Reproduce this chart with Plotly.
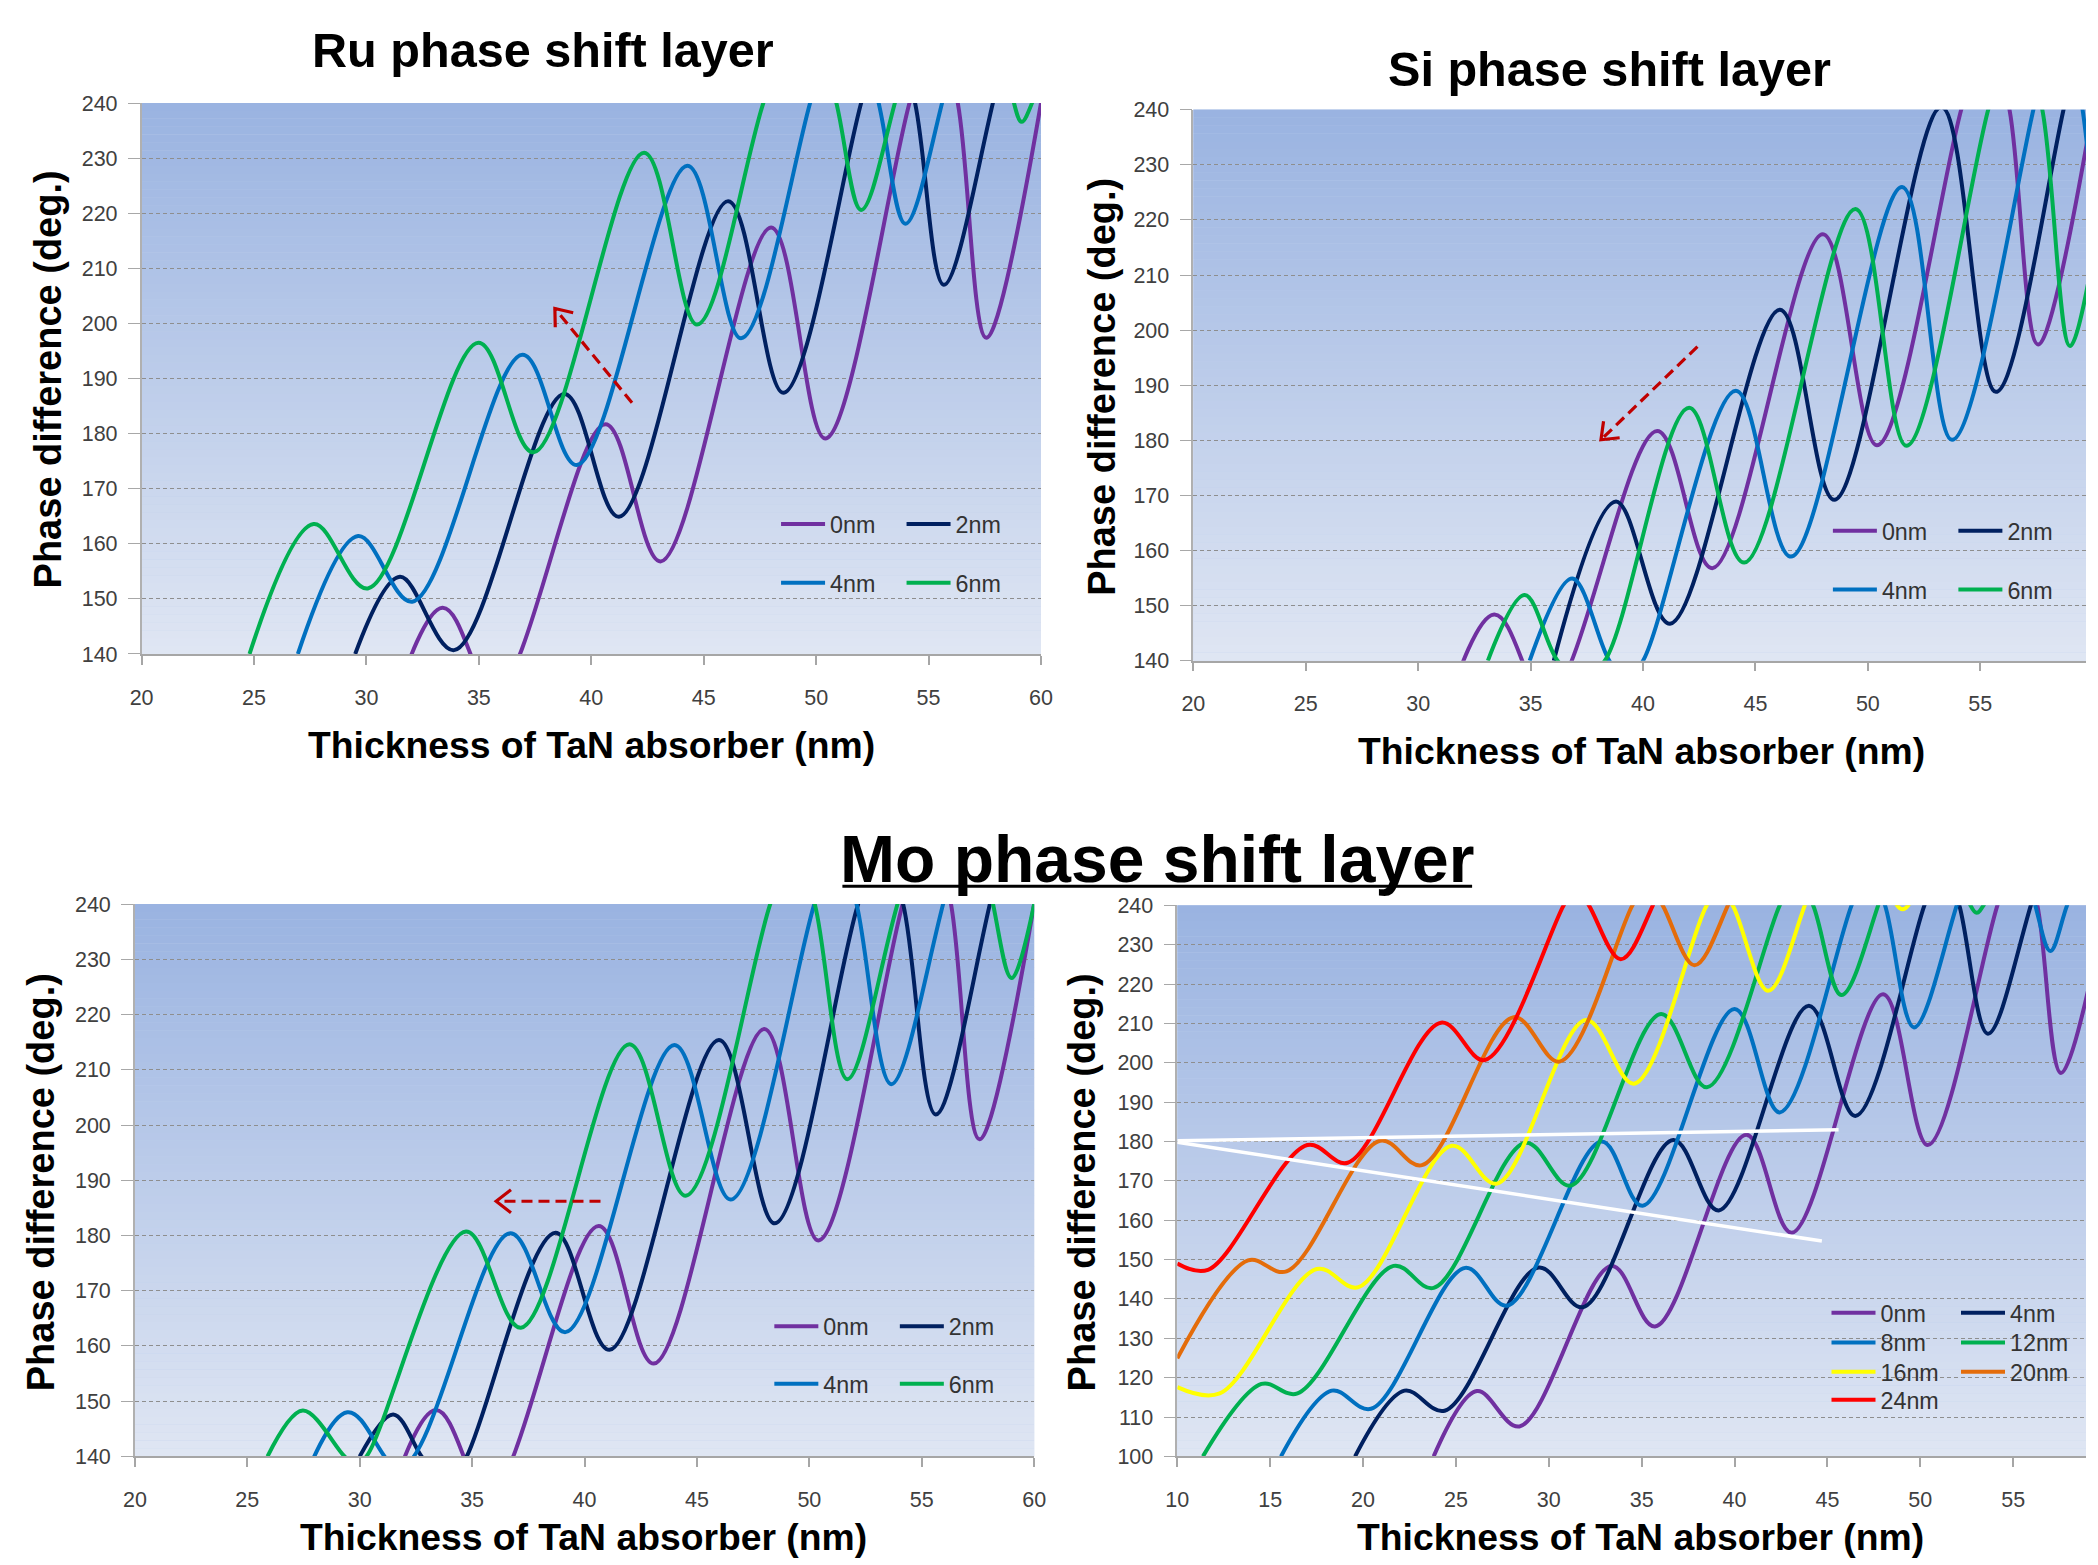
import math
import plotly.graph_objects as go

W, H = 2098, 1565
FONT = "Liberation Sans, Arial, sans-serif"

# ---------------------------------------------------------------------------
# Phase difference (deg.) versus TaN absorber thickness (nm)
# ---------------------------------------------------------------------------

# 0 nm phase shift layer (identical reference curve in every panel)
x_0nm = [23.8, 26.13, 28.42, 33.38, 35.72, 40.63, 43.08, 48.0, 50.4, 54.15, 55.3, 56.3, 57.57, 60.0]
y_0nm = [100, 116.6, 107.6, 148.4, 133.0, 181.7, 156.8, 217.4, 179.1, 240, 256, 240, 197.4, 240]

# Ru phase shift layer
ru_x_2nm = [29.5, 31.49, 33.9, 38.8, 41.23, 46.09, 48.54, 52.0, 53.2, 54.4, 55.68, 57.86, 60.4]
ru_y_2nm = [140, 154.0, 140.7, 187.2, 164.9, 222.2, 187.4, 240, 258, 240, 207.0, 240, 290]
ru_x_4nm = [26.95, 29.63, 32.04, 36.94, 39.36, 44.28, 46.66, 49.73, 51.25, 52.78, 53.97, 55.6, 58.6]
ru_y_4nm = [140, 161.4, 149.5, 194.3, 174.3, 228.6, 197.3, 240, 264, 240, 218.1, 240, 300]
ru_x_6nm = [24.8, 27.65, 30.06, 34.98, 37.43, 42.35, 44.7, 47.65, 49.5, 50.9, 52.0, 53.5, 57.0,
            58.8, 59.14, 59.6, 60.0]
ru_y_6nm = [140, 163.6, 151.9, 196.5, 176.6, 231.0, 199.8, 240, 262, 240, 220.6, 240, 305,
            240, 236.6, 240, 246]

# Si phase shift layer
si_x_2nm = [36.03, 38.8, 41.2, 46.09, 48.51, 53.27, 55.69, 58.7, 60.4]
si_y_2nm = [140, 168.9, 146.7, 203.7, 169.2, 240.5, 188.8, 240, 275]
si_x_4nm = [34.96, 36.85, 38.5, 39.25, 40.0, 44.13, 46.58, 51.52, 53.74, 57.36, 58.5, 59.55, 60.0]
si_y_4nm = [140, 154.9, 140, 136.5, 140, 189.0, 158.9, 226.0, 180.1, 240, 262, 240, 222]
si_x_6nm = [33.1, 34.74, 36.2, 37.25, 38.3, 42.05, 44.5, 49.45, 51.71, 55.35, 56.6, 57.76, 58.99, 60.0]
si_y_6nm = [140, 151.9, 140, 136.5, 140, 185.9, 157.8, 222.0, 179.0, 240, 258, 240, 197.1, 213]

# Mo phase shift layer
mo_x_2nm = [30.0, 31.49, 32.75, 33.8, 34.76, 38.71, 41.11, 45.98, 48.46, 52.17, 53.2, 54.17,
            55.62, 58.03, 60.4]
mo_y_2nm = [140, 147.6, 140, 134.0, 140, 180.5, 159.3, 215.4, 182.2, 240, 251, 240,
            201.9, 240, 285]
mo_x_4nm = [19.57, 22.23, 24.39, 29.45, 31.83, 36.7, 39.15, 44.0, 46.5, 50.22, 51.2, 52.1,
            53.64, 55.95, 58.6]
mo_y_4nm = [100, 116.7, 111.6, 148.0, 137.9, 180.4, 162.5, 214.5, 186.5, 240, 252, 240,
            207.4, 240, 286]
mo_x_6nm = [25.9, 27.47, 29.33, 29.8, 30.3, 34.73, 37.17, 42.0, 44.5, 48.26, 49.3, 50.24,
            51.69, 53.92, 56.6, 58.17, 59.0, 60.0]
mo_y_6nm = [140, 148.3, 140, 138.5, 140, 180.7, 163.3, 214.6, 187.2, 240, 251, 240,
            208.3, 240, 277, 240, 226.6, 240]
mo_x_8nm = [15.58, 18.31, 20.43, 25.5, 27.75, 32.84, 35.05, 40.0, 42.43, 46.3, 47.2, 48.1,
            49.66, 51.96, 54.3, 56.19, 57.0, 57.9, 59.6]
mo_y_8nm = [100, 116.7, 112.1, 147.9, 138.3, 180.0, 163.7, 213.7, 187.4, 240, 250, 240,
            209.0, 240, 280, 240, 228.4, 240, 262]
mo_x_12nm = [11.38, 14.53, 16.47, 21.64, 23.8, 28.74, 31.17, 36.04, 38.51, 42.43, 43.3, 44.23,
             45.75, 47.73, 50.3, 52.7, 53.04, 53.4, 56.0]
mo_y_12nm = [100, 118.4, 116.0, 148.4, 142.8, 179.7, 168.8, 212.4, 193.8, 240, 248, 240,
             217.2, 240, 285, 240, 238.1, 240, 270]
mo_x_16nm = [10.0, 12.28, 17.5, 19.75, 24.78, 27.2, 32.0, 34.59, 38.5, 39.2, 39.9, 41.8,
             43.78, 46.3, 48.75, 49.05, 49.35, 52.0]
mo_y_16nm = [117.6, 116.0, 147.6, 143.0, 178.9, 169.3, 210.9, 194.7, 240, 244, 240, 218.3,
             240, 280, 240, 239.0, 240, 275]
mo_x_20nm = [10.0, 13.81, 15.88, 20.92, 23.17, 28.11, 30.58, 34.5, 35.3, 36.13, 37.84, 39.64, 42.5]
mo_y_20nm = [124.9, 149.8, 147.0, 180.2, 174.0, 211.6, 200.3, 240, 246, 240, 224.8, 240, 280]
mo_x_24nm = [10.0, 11.65, 17.0, 19.17, 24.2, 26.55, 30.8, 31.45, 32.16, 33.87, 35.6, 38.5]
mo_y_24nm = [149.0, 147.4, 179.1, 174.6, 210.2, 200.7, 240, 245, 240, 226.3, 240, 280]

# Guide lines drawn over the Mo thickness sweep
guide_upper_x = [10.0, 45.6]
guide_upper_y = [180.2, 183.0]
guide_lower_x = [10.0, 44.7]
guide_lower_y = [179.8, 154.7]

# Shift arrows (tail -> tip)
ru_arrow = [(41.81, 185.6), (38.38, 202.7)]
si_arrow = [(42.42, 197.0), (38.13, 180.1)]
mo_arrow = [(40.71, 186.2), (36.07, 186.2)]

# Tick labels
x_ticks_main = [20, 25, 30, 35, 40, 45, 50, 55, 60]
x_ticks_sweep = [10, 15, 20, 25, 30, 35, 40, 45, 50, 55, 60]
y_ticks_main = [140, 150, 160, 170, 180, 190, 200, 210, 220, 230, 240]
y_ticks_sweep = [100, 110, 120, 130, 140, 150, 160, 170, 180, 190, 200, 210, 220, 230, 240]

# ---------------------------------------------------------------------------
# colours
PURPLE, NAVY, BLUE, GREEN = "#7030A0", "#002060", "#0070C0", "#00B050"
YELLOW, ORANGE, RED = "#FFFF00", "#E46C0A", "#FF0000"
ARROW_RED = "#C00000"

# panel geometry in page pixels: left, right, top, bottom, x range, y range, ticks
panels = {
    1: dict(l=131.1, r=1040.9, t=93.5, b=653.0, xr=[20, 60], yr=[140, 240],
            xt=x_ticks_main, yt=y_ticks_main),
    2: dict(l=1195.0, r=2098.0, t=100.3, b=659.8, xr=[20, 20 + (2098.0 - 1195.0) / 22.745],
            yr=[140, 240], xt=x_ticks_main, yt=y_ticks_main),
    3: dict(l=124.3, r=1034.0, t=907.0, b=1467.9, xr=[20, 60], yr=[140, 240],
            xt=x_ticks_main, yt=y_ticks_main),
    4: dict(l=1178.8, r=2098.0, t=908.3, b=1467.9, xr=[10, 10 + (2098.0 - 1178.8) / 18.79],
            yr=[100, 240], xt=x_ticks_sweep, yt=y_ticks_sweep),
}


def fx(px):
    return px / W


def fy(py):
    return 1 - py / H


def sfx(i):
    return "" if i == 1 else str(i)


fig = go.Figure()


def add_curve(xs, ys, name, color, panel, legend, width=4):
    fig.add_trace(go.Scatter(
        x=xs, y=ys, name=name, mode="lines",
        line=dict(color=color, width=width, shape="spline", smoothing=1.0),
        xaxis="x" + sfx(panel), yaxis="y" + sfx(panel),
        legend=legend, hoverinfo="skip"))


# Ru panel
add_curve(x_0nm, y_0nm, "0nm", PURPLE, 1, "legend")
add_curve(ru_x_2nm, ru_y_2nm, "2nm", NAVY, 1, "legend")
add_curve(ru_x_4nm, ru_y_4nm, "4nm", BLUE, 1, "legend2")
add_curve(ru_x_6nm, ru_y_6nm, "6nm", GREEN, 1, "legend2")
# Si panel
add_curve(x_0nm, y_0nm, "0nm", PURPLE, 2, "legend3")
add_curve(si_x_2nm, si_y_2nm, "2nm", NAVY, 2, "legend3")
add_curve(si_x_4nm, si_y_4nm, "4nm", BLUE, 2, "legend4")
add_curve(si_x_6nm, si_y_6nm, "6nm", GREEN, 2, "legend4")
# Mo panel, 0-6 nm
add_curve(x_0nm, y_0nm, "0nm", PURPLE, 3, "legend5")
add_curve(mo_x_2nm, mo_y_2nm, "2nm", NAVY, 3, "legend5")
add_curve(mo_x_4nm, mo_y_4nm, "4nm", BLUE, 3, "legend6")
add_curve(mo_x_6nm, mo_y_6nm, "6nm", GREEN, 3, "legend6")
# Mo panel, 0-24 nm sweep
add_curve(x_0nm, y_0nm, "0nm", PURPLE, 4, "legend7")
add_curve(mo_x_4nm, mo_y_4nm, "4nm", NAVY, 4, "legend7")
add_curve(mo_x_8nm, mo_y_8nm, "8nm", BLUE, 4, "legend8")
add_curve(mo_x_12nm, mo_y_12nm, "12nm", GREEN, 4, "legend8")
add_curve(mo_x_16nm, mo_y_16nm, "16nm", YELLOW, 4, "legend9")
add_curve(mo_x_20nm, mo_y_20nm, "20nm", ORANGE, 4, "legend9")
add_curve(mo_x_24nm, mo_y_24nm, "24nm", RED, 4, "legend10")

for gx, gy in ((guide_upper_x, guide_upper_y), (guide_lower_x, guide_lower_y)):
    fig.add_trace(go.Scatter(x=gx, y=gy, mode="lines", showlegend=False, hoverinfo="skip",
                             line=dict(color="white", width=3.5), xaxis="x4", yaxis="y4"))


def add_arrow(arrow, panel, head_px=19, ang_deg=38):
    (x0, y0), (x1, y1) = arrow
    p = panels[panel]
    sx = (p["r"] - p["l"]) / (p["xr"][1] - p["xr"][0])
    sy = (p["b"] - p["t"]) / (p["yr"][1] - p["yr"][0])
    dxp, dyp = (x1 - x0) * sx, (y1 - y0) * sy
    n = math.hypot(dxp, dyp)
    ux, uy = dxp / n, dyp / n
    wings = []
    for s in (1, -1):
        a = math.radians(ang_deg) * s
        rx = ux * math.cos(a) - uy * math.sin(a)
        ry = ux * math.sin(a) + uy * math.cos(a)
        wings.append((x1 - head_px * rx / sx, y1 - head_px * ry / sy))
    ax, ay = "x" + sfx(panel), "y" + sfx(panel)
    fig.add_trace(go.Scatter(x=[x0, x1], y=[y0, y1], mode="lines", showlegend=False,
                             hoverinfo="skip", xaxis=ax, yaxis=ay,
                             line=dict(color=ARROW_RED, width=3.2, dash="11px,6px")))
    fig.add_trace(go.Scatter(x=[wings[0][0], x1, wings[1][0]], y=[wings[0][1], y1, wings[1][1]],
                             mode="lines", showlegend=False, hoverinfo="skip", xaxis=ax, yaxis=ay,
                             line=dict(color=ARROW_RED, width=3.2)))


add_arrow(ru_arrow, 1)
add_arrow(si_arrow, 2)
add_arrow(mo_arrow, 3)

# ---------------------------------------------------------------------------
layout = dict(
    width=W, height=H, margin=dict(l=0, r=0, t=0, b=0),
    paper_bgcolor="white", plot_bgcolor="#BFCFEC", showlegend=True,
    font=dict(family=FONT, color="#404040"),
)

tick_font = dict(family=FONT, size=21.5, color="#404040")
for i, p in panels.items():
    layout["xaxis" + sfx(i)] = dict(
        domain=[fx(p["l"]), fx(p["r"])], range=p["xr"], anchor="y" + sfx(i),
        tickmode="array", tickvals=p["xt"], ticktext=[str(v) for v in p["xt"]],
        showgrid=False, zeroline=False, showline=True, linecolor="#A6A6A6", linewidth=1.5,
        ticks="outside", ticklen=9, tickwidth=1.5, tickcolor="#A6A6A6",
        tickfont=tick_font, ticklabelstandoff=14, fixedrange=True)
    layout["yaxis" + sfx(i)] = dict(
        domain=[fy(p["b"]), fy(p["t"])], range=p["yr"], anchor="x" + sfx(i),
        tickmode="array", tickvals=p["yt"], ticktext=[str(v) for v in p["yt"]],
        showgrid=True, gridcolor="#8E8E8E", griddash="4px,3px", gridwidth=1.2,
        zeroline=False, showline=True, linecolor="#B0B0B0", linewidth=1.5,
        ticks="outside", ticklen=12, tickwidth=1.2, tickcolor="#A8A8A8",
        tickfont=tick_font, ticklabelstandoff=6, fixedrange=True)

# vertical gradient behind each plot area
top_rgb, bot_rgb = (153, 179, 225), (224, 230, 243)
bands = 70
shapes = []
for i in panels:
    for k in range(bands):
        f = (k + 0.5) / bands
        c = tuple(round(bot_rgb[j] + (top_rgb[j] - bot_rgb[j]) * f) for j in range(3))
        shapes.append(dict(type="rect", xref="x%s domain" % sfx(i), yref="y%s domain" % sfx(i),
                           x0=0, x1=1, y0=k / bands, y1=(k + 1.02) / bands,
                           fillcolor="rgb(%d,%d,%d)" % c, line=dict(width=0), layer="below"))
layout["shapes"] = shapes

# legends: one horizontal row per legend (symbol start x, row centre y, column step)
legend_rows = {
    "legend": (780.9, 521.3, 128.5), "legend2": (780.9, 581.1, 128.5),
    "legend3": (1844.9, 528.1, 128.5), "legend4": (1844.9, 587.9, 128.5),
    "legend5": (774.1, 1336.2, 128.5), "legend6": (774.1, 1394.5, 128.5),
    "legend7": (1843.5, 1322.5, 132.5), "legend8": (1843.5, 1352.5, 132.5),
    "legend9": (1843.5, 1382.3, 132.5), "legend10": (1843.5, 1410.8, 132.5),
}
for key, (xs, ys, step) in legend_rows.items():
    layout[key] = dict(
        orientation="h", x=fx(xs - 8), y=fy(ys), xanchor="left", yanchor="middle",
        bgcolor="rgba(0,0,0,0)", borderwidth=0,
        font=dict(family=FONT, size=23.3, color="#333333"),
        entrywidth=step - 62, entrywidthmode="pixels", itemwidth=44,
        itemclick=False, itemdoubleclick=False)

# titles and axis titles
ann = []


def text(x, y, s, size, angle=0, underline=False):
    f = dict(family=FONT, size=size, color="#000000")
    if underline:
        f["lineposition"] = "under"
    ann.append(dict(x=fx(x), y=fy(y), xref="paper", yref="paper", text="<b>%s</b>" % s,
                    showarrow=False, xanchor="center", yanchor="middle",
                    textangle=angle, font=f))


text(537.3, 39.3, "Ru phase shift layer", 48.6)
text(1615.8, 58.6, "Si phase shift layer", 48.6)
text(1158.5, 861.5, "Mo phase shift layer", 66)

# underline of the Mo heading
shapes.append(dict(type="line", xref="paper", yref="paper",
                   x0=fx(840.0), x1=fx(1477.0), y0=fy(889.0), y1=fy(889.0),
                   line=dict(color="black", width=3)))

x_title = "Thickness of TaN absorber (nm)"
y_title = "Phase difference (deg.)"
text(585.9, 745.8, x_title, 37.3)
text(1648.2, 751.9, x_title, 37.3)
text(577.8, 1550, x_title, 37.3)
text(1647.2, 1550, x_title, 37.3)
text(36.3, 374.3, y_title, 38, angle=-90)
text(1101.9, 381.4, y_title, 38, angle=-90)
text(29.4, 1189.4, y_title, 38, angle=-90)
text(1082.6, 1189.4, y_title, 38, angle=-90)
layout["annotations"] = ann

fig.update_layout(**layout)

# pin the chart to the top-left corner of the page so it fills the window exactly
pin_script = """
var gd = document.getElementById('{plot_id}');
document.documentElement.style.margin = '0';
document.documentElement.style.padding = '0';
document.documentElement.style.overflow = 'hidden';
document.body.style.margin = '0';
document.body.style.padding = '0';
document.body.style.overflow = 'hidden';
gd.style.position = 'fixed';
gd.style.left = '0px';
gd.style.top = '0px';
"""
fig.write_html("out.html", post_script=pin_script)
